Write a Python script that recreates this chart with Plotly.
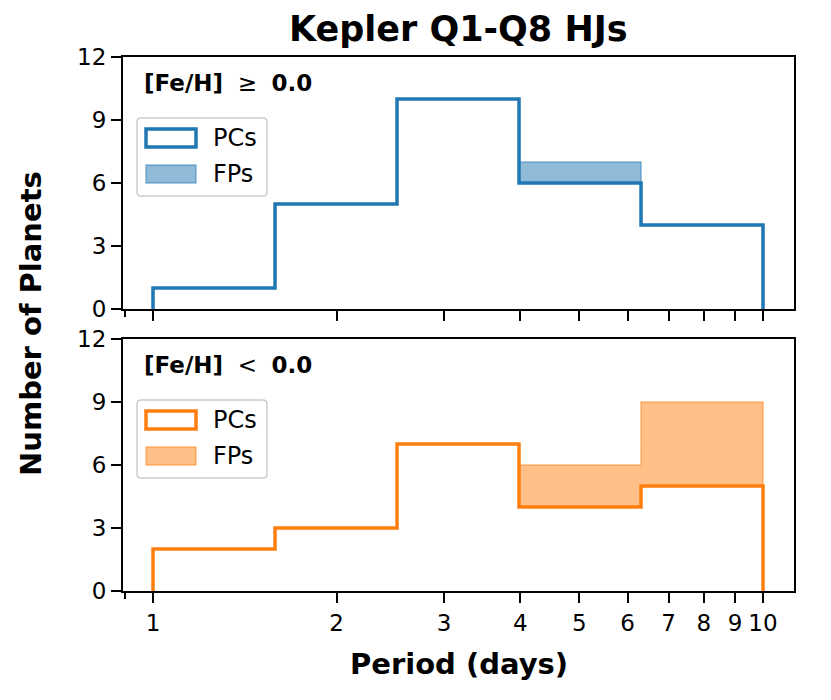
import plotly.graph_objects as go

W, H = 831, 700
OFF = 8  # page margin around the plot div

# histogram bins (log-spaced, days) and counts
bin_edges = [1.0, 1.585, 2.512, 3.981, 6.310, 10.0]
x_ticks = [1, 2, 3, 4, 5, 6, 7, 8, 9, 10]
y_ticks = [0, 3, 6, 9, 12]

hi_pcs = [1, 5, 10, 6, 4]   # [Fe/H] >= 0, planet candidates
hi_fps = [0, 0, 0, 1, 0]    # [Fe/H] >= 0, false positives
lo_pcs = [2, 3, 7, 4, 5]    # [Fe/H] < 0
lo_fps = [0, 0, 0, 2, 4]

SP = '\u00a0\u00a0'
panels = [
    ('<b>[Fe/H]</b>' + SP + '\u2265' + SP + '<b>0.0</b>', hi_pcs, hi_fps,
     '#1f77b4', 'rgba(31,119,180,0.5)', 57),
    ('<b>[Fe/H]</b>' + SP + '<' + SP + '<b>0.0</b>', lo_pcs, lo_fps,
     '#ff7f0e', 'rgba(255,127,14,0.5)', 339),
]

FONT = 'DejaVu Sans'
AX_L, AX_R, AX_H = 123, 794, 252


def px(x):
    return (x - OFF) / W


def py(y):
    return 1 - (y - OFF) / H


def step(counts):
    # outline of a step histogram, drawn with line_shape='hv'
    xs = [bin_edges[0]] + list(bin_edges) + [bin_edges[-1]]
    ys = [0] + list(counts) + [counts[-1], 0]
    return xs, ys[:len(xs)]


def rounded_box(x0, y0, x1, y1, r=4):
    rx, ry = r / W, r / H
    a, b, c, d = px(x0), py(y1), px(x1), py(y0)
    return (f'M{a+rx},{b} L{c-rx},{b} Q{c},{b} {c},{b+ry} L{c},{d-ry} Q{c},{d} {c-rx},{d} '
            f'L{a+rx},{d} Q{a},{d} {a},{d-ry} L{a},{b+ry} Q{a},{b} {a+rx},{b} Z')


fig = go.Figure()
shapes = []
annotations = []

for i, (label, pcs, fps, color, fill, top) in enumerate(panels):
    xa = 'x' if i == 0 else 'x2'
    ya = 'y' if i == 0 else 'y2'
    total = [p + f for p, f in zip(pcs, fps)]
    sx, spc = step(pcs)
    _, stot = step(total)

    fig.add_trace(go.Scatter(x=sx, y=spc, mode='lines', line=dict(width=0, shape='hv'),
                             xaxis=xa, yaxis=ya, showlegend=False, hoverinfo='skip'))
    fig.add_trace(go.Scatter(x=sx, y=stot, mode='lines', fill='tonexty', fillcolor=fill,
                             line=dict(color=fill, width=1.5, shape='hv'),
                             xaxis=xa, yaxis=ya, showlegend=False, name='FPs'))
    fig.add_trace(go.Scatter(x=sx, y=spc, mode='lines', line=dict(color=color, width=3.5, shape='hv'),
                             xaxis=xa, yaxis=ya, showlegend=False, name='PCs'))

    # panel label
    annotations.append(dict(x=px(142), y=py(top + 26), xref='paper', yref='paper',
                            text=label, showarrow=False, xanchor='left',
                            yanchor='middle', font=dict(family=FONT, size=23, color='black')))

    # legend box
    shapes.append(dict(type='path', path=rounded_box(137, top + 61, 267, top + 139),
                       xref='paper', yref='paper', line=dict(color='#cccccc', width=1.5),
                       fillcolor='rgba(255,255,255,0.8)', layer='above'))
    shapes.append(dict(type='rect', x0=px(146), x1=px(196), y0=py(top + 90), y1=py(top + 72),
                       xref='paper', yref='paper', line=dict(color=color, width=3.5),
                       fillcolor='white', layer='above'))
    shapes.append(dict(type='rect', x0=px(146), x1=px(196), y0=py(top + 126), y1=py(top + 108),
                       xref='paper', yref='paper', line=dict(color=fill, width=1.5),
                       fillcolor=fill, layer='above'))
    for txt, yc in (('PCs', top + 81), ('FPs', top + 117)):
        annotations.append(dict(x=px(211), y=py(yc), xref='paper', yref='paper', text=txt,
                                showarrow=False, xanchor='left', yanchor='middle',
                                font=dict(family=FONT, size=24, color='black')))

# title and axis labels
annotations.append(dict(x=px((AX_L + AX_R) / 2), y=py(29), xref='paper', yref='paper',
                        text='<b>Kepler Q1-Q8 HJs</b>', showarrow=False,
                        xanchor='center', yanchor='middle',
                        font=dict(family=FONT, size=35, color='black')))
annotations.append(dict(x=px((AX_L + AX_R) / 2), y=py(664), xref='paper', yref='paper',
                        text='<b>Period (days)</b>', showarrow=False,
                        xanchor='center', yanchor='middle',
                        font=dict(family=FONT, size=29, color='black')))
annotations.append(dict(x=px(31), y=py(324), xref='paper', yref='paper',
                        text='<b>Number of Planets</b>', showarrow=False, textangle=-90,
                        xanchor='center', yanchor='middle',
                        font=dict(family=FONT, size=29, color='black')))

xaxis_style = dict(type='log', range=[-0.0492, 1.0508], tickvals=x_ticks,
                   ticktext=[str(t) for t in x_ticks], ticks='outside', ticklen=10,
                   tickwidth=2, tickcolor='black', showline=True, linecolor='black',
                   linewidth=2, mirror=True, showgrid=False, zeroline=False,
                   automargin=False,
                   minor=dict(tickvals=[0.9], ticks='outside', ticklen=6, tickwidth=1.5,
                              tickcolor='black'),
                   tickfont=dict(family=FONT, size=23, color='black'),
                   domain=[px(AX_L), px(AX_R)])
yaxis_style = dict(range=[0, 12], tickvals=y_ticks, ticks='outside', ticklen=10, tickwidth=2,
                   tickcolor='black', showline=True, linecolor='black', linewidth=2,
                   mirror=True, showgrid=False, zeroline=False, automargin=False,
                   tickfont=dict(family=FONT, size=23, color='black'))

fig.update_layout(
    template='none',
    width=W, height=H, autosize=False,
    margin=dict(l=0, r=0, t=0, b=0),
    paper_bgcolor='white', plot_bgcolor='white',
    xaxis=dict(xaxis_style, anchor='y', showticklabels=False),
    xaxis2=dict(xaxis_style, anchor='y2'),
    yaxis=dict(yaxis_style, anchor='x', domain=[py(57 + AX_H), py(57)]),
    yaxis2=dict(yaxis_style, anchor='x2', domain=[py(339 + AX_H), py(339)]),
    shapes=shapes,
    annotations=annotations,
    showlegend=False,
)

fig.write_html('out.html')
